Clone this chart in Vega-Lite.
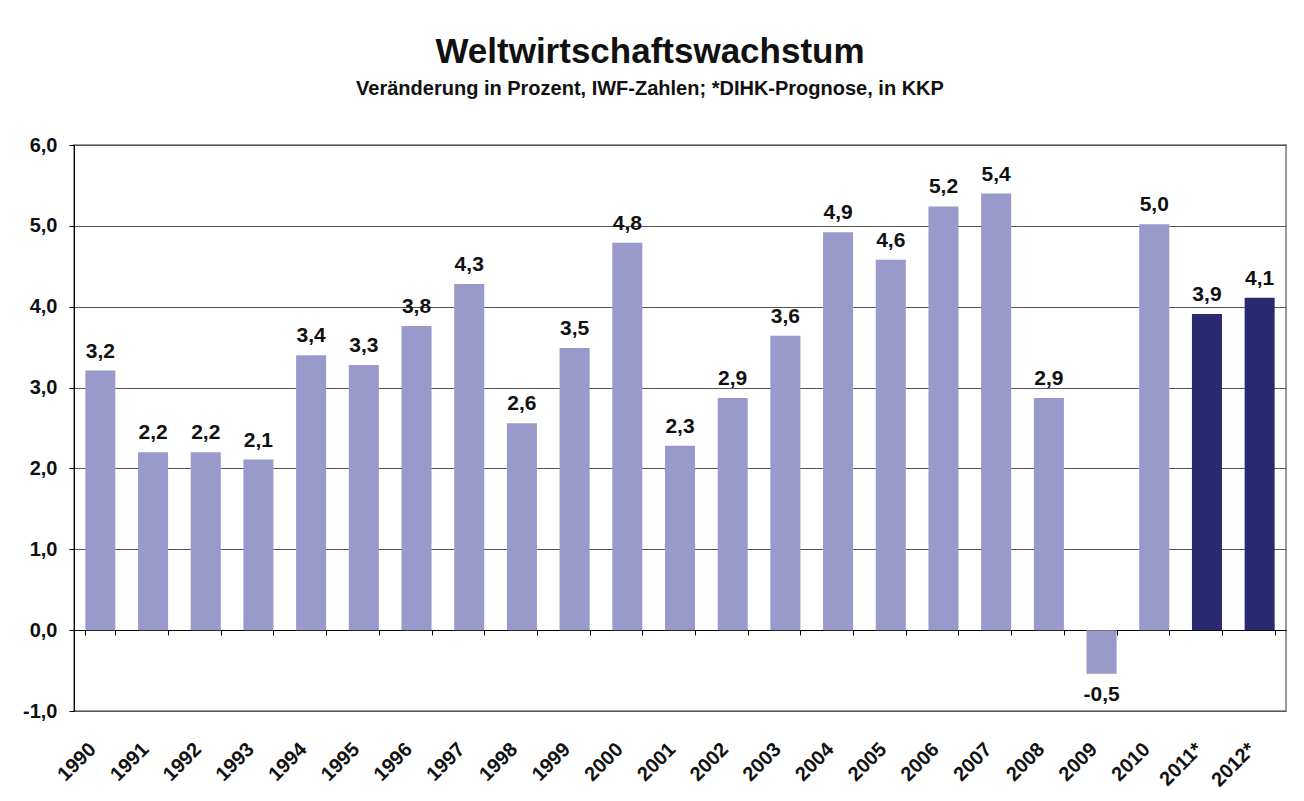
{
  "$schema": "https://vega.github.io/schema/vega-lite/v6.json",
  "width": 1212,
  "height": 566,
  "autosize": {"type": "none"},
  "padding": {"left": 74, "top": 145, "right": 18, "bottom": 90},
  "background": "white",
  "title": {
    "text": "Weltwirtschaftswachstum",
    "subtitle": "Veränderung in Prozent, IWF-Zahlen; *DIHK-Prognose, in KKP",
    "font": "Liberation Sans",
    "subtitleFont": "Liberation Sans",
    "fontSize": 35,
    "subtitleFontSize": 20,
    "fontWeight": "bold",
    "subtitleFontWeight": "bold",
    "color": "#111111",
    "subtitleColor": "#111111",
    "anchor": "middle",
    "dx": -30,
    "offset": 36,
    "subtitlePadding": 9
  },
  "data": {
    "values": [
      {"jahr": "1990", "wert": 3.21, "typ": "IWF"},
      {"jahr": "1991", "wert": 2.2, "typ": "IWF"},
      {"jahr": "1992", "wert": 2.2, "typ": "IWF"},
      {"jahr": "1993", "wert": 2.11, "typ": "IWF"},
      {"jahr": "1994", "wert": 3.4, "typ": "IWF"},
      {"jahr": "1995", "wert": 3.28, "typ": "IWF"},
      {"jahr": "1996", "wert": 3.76, "typ": "IWF"},
      {"jahr": "1997", "wert": 4.28, "typ": "IWF"},
      {"jahr": "1998", "wert": 2.56, "typ": "IWF"},
      {"jahr": "1999", "wert": 3.49, "typ": "IWF"},
      {"jahr": "2000", "wert": 4.79, "typ": "IWF"},
      {"jahr": "2001", "wert": 2.28, "typ": "IWF"},
      {"jahr": "2002", "wert": 2.87, "typ": "IWF"},
      {"jahr": "2003", "wert": 3.64, "typ": "IWF"},
      {"jahr": "2004", "wert": 4.92, "typ": "IWF"},
      {"jahr": "2005", "wert": 4.58, "typ": "IWF"},
      {"jahr": "2006", "wert": 5.24, "typ": "IWF"},
      {"jahr": "2007", "wert": 5.4, "typ": "IWF"},
      {"jahr": "2008", "wert": 2.87, "typ": "IWF"},
      {"jahr": "2009", "wert": -0.54, "typ": "IWF"},
      {"jahr": "2010", "wert": 5.02, "typ": "IWF"},
      {"jahr": "2011*", "wert": 3.91, "typ": "DIHK"},
      {"jahr": "2012*", "wert": 4.11, "typ": "DIHK"}
    ]
  },
  "encoding": {
    "x": {
      "field": "jahr",
      "type": "nominal",
      "sort": null,
      "scale": {"paddingInner": 0.43, "paddingOuter": 0.215},
      "axis": {
        "title": null,
        "orient": "bottom",
        "offset": -81,
        "domainColor": "black",
        "domainWidth": 1,
        "tickColor": "black",
        "tickSize": 5,
        "tickBand": "extent",
        "labelAngle": -45,
        "labelAlign": "right",
        "labelBaseline": "middle",
        "labelPadding": 111,
        "labelOffset": -8,
        "labelFont": "Liberation Sans",
        "labelFontSize": 20,
        "labelFontWeight": "bold",
        "labelColor": "#111111"
      }
    },
    "y": {
      "field": "wert",
      "type": "quantitative",
      "scale": {"domain": [-1, 6], "nice": false, "zero": false},
      "axis": {
        "title": null,
        "values": [-1, 0, 1, 2, 3, 4, 5, 6],
        "format": ".1f",
        "grid": true,
        "gridColor": "#555555",
        "gridWidth": 1,
        "domainColor": "black",
        "tickColor": "black",
        "tickSize": 5,
        "labelPadding": 12,
        "labelFont": "Liberation Sans",
        "labelFontSize": 20,
        "labelFontWeight": "bold",
        "labelColor": "#111111"
      }
    }
  },
  "layer": [
    {
      "mark": {"type": "bar"},
      "encoding": {
        "color": {
          "field": "typ",
          "type": "nominal",
          "scale": {"domain": ["IWF", "DIHK"], "range": ["#9999CC", "#2A2A70"]},
          "legend": null
        }
      }
    },
    {
      "transform": [{"filter": "datum.wert >= 0"}],
      "mark": {"type": "text", "baseline": "bottom", "dy": -9, "font": "Liberation Sans", "fontSize": 21, "fontWeight": "bold", "color": "#111111"},
      "encoding": {
        "text": {"field": "wert", "type": "quantitative", "format": ".1f"}
      }
    },
    {
      "transform": [{"filter": "datum.wert < 0"}],
      "mark": {"type": "text", "baseline": "top", "dy": 10, "font": "Liberation Sans", "fontSize": 21, "fontWeight": "bold", "color": "#111111"},
      "encoding": {
        "text": {"field": "wert", "type": "quantitative", "format": ".1f"}
      }
    }
  ],
  "config": {
    "locale": {"number": {"decimal": ",", "thousands": ".", "grouping": [3], "currency": ["", " €"], "minus": "-"}},
    "view": {"stroke": "#999999", "strokeWidth": 2}
  }
}
